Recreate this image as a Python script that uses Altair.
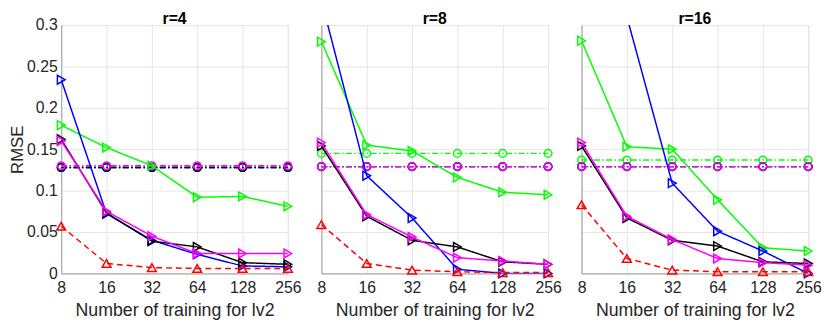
import altair as alt
import pandas as pd

# ---------------- data ----------------
x_train = [8, 16, 32, 64, 128, 256]
panel_titles = ["r=4", "r=8", "r=16"]

# solid lines with right-pointing triangles
blue_tri = {"r=4": [0.234, 0.072, 0.040, 0.023, 0.009, 0.008],
            "r=8": [0.330, 0.118, 0.067, 0.005, 0.000, 0.000],
            "r=16": [0.450, 0.310, 0.109, 0.051, 0.027, 0.000]}
green_tri = {"r=4": [0.179, 0.152, 0.130, 0.092, 0.093, 0.081],
             "r=8": [0.280, 0.155, 0.148, 0.116, 0.098, 0.095],
             "r=16": [0.281, 0.153, 0.150, 0.089, 0.031, 0.027]}
black_tri = {"r=4": [0.162, 0.073, 0.039, 0.032, 0.013, 0.011],
             "r=8": [0.154, 0.069, 0.040, 0.032, 0.014, 0.011],
             "r=16": [0.154, 0.067, 0.040, 0.033, 0.014, 0.012]}
magenta_tri = {"r=4": [0.160, 0.075, 0.045, 0.024, 0.024, 0.024],
               "r=8": [0.158, 0.071, 0.044, 0.019, 0.015, 0.011],
               "r=16": [0.158, 0.069, 0.041, 0.018, 0.013, 0.010]}
# dashed red with up triangles
red_up = {"r=4": [0.057, 0.012, 0.007, 0.006, 0.006, 0.006],
          "r=8": [0.059, 0.012, 0.004, 0.002, 0.001, 0.001],
          "r=16": [0.083, 0.018, 0.004, 0.002, 0.002, 0.002]}
# dash-dot with circles (constant baselines)
green_circ = {"r=4": [0.128] * 6, "r=8": [0.145] * 6, "r=16": [0.137] * 6}
blue_circ = {"r=4": [0.128] * 6, "r=8": [0.129] * 6, "r=16": [0.129] * 6}
black_circ = {"r=4": [0.128] * 6, "r=8": [0.129] * 6, "r=16": [0.129] * 6}
magenta_circ = {"r=4": [0.130] * 6, "r=8": [0.129] * 6, "r=16": [0.129] * 6}

y_ticks = [0, 0.05, 0.1, 0.15, 0.2, 0.25, 0.3]

# ---------------- styles ----------------
DASHDOT = [6, 2.5, 1.5, 2.5]
SOLID = [1, 0]
DASHED = [6, 4]
series = [
    ("green_circ", green_circ, "#00ff00", "circle", DASHDOT),
    ("blue_circ", blue_circ, "#0000ff", "circle", DASHDOT),
    ("black_circ", black_circ, "#000000", "circle", DASHDOT),
    ("magenta_circ", magenta_circ, "#ff00ff", "circle", DASHDOT),
    ("green_tri", green_tri, "#00ff00", "triangle-right", SOLID),
    ("blue_tri", blue_tri, "#0000ff", "triangle-right", SOLID),
    ("black_tri", black_tri, "#000000", "triangle-right", SOLID),
    ("magenta_tri", magenta_tri, "#ff00ff", "triangle-right", SOLID),
    ("red_up", red_up, "#ff0000", "triangle-up", DASHED),
]

FONT = "Liberation Sans"
GRID = "#e6e6e6"
DOMAIN = "#a0a0a0"
TXT = "#262626"
W, H = 230, 252


def make_panel(title, idx):
    rows = []
    for name, vals, *_ in series:
        for xv, yv in zip(x_train, vals[title]):
            rows.append({"x": xv, "y": yv, "s": name})
    df = pd.DataFrame(rows)

    xenc = alt.X("x:Q",
                 scale=alt.Scale(type="log", base=2, domain=[8, 256], nice=False),
                 axis=alt.Axis(values=x_train, format="d", title="Number of training for lv2",
                               grid=True, ticks=False, labelPadding=6, titlePadding=7,
                               labelFontSize=16, titleFontSize=18, labelFlush=False,
                               titleFontWeight="normal", labelFont=FONT, titleFont=FONT,
                               labelColor=TXT, titleColor=TXT, gridColor=GRID, domainColor=DOMAIN))
    if idx == 0:
        yaxis = alt.Axis(values=y_ticks, format=".2~f", title="RMSE", grid=True, ticks=False,
                         labelPadding=4, titlePadding=0, labelFontSize=16, titleFontSize=17,
                         titleFontWeight="normal", labelFont=FONT, titleFont=FONT,
                         labelColor=TXT, titleColor=TXT, gridColor=GRID, domainColor=DOMAIN)
    else:
        yaxis = alt.Axis(values=y_ticks, labels=False, title=None, grid=True, ticks=False,
                         gridColor=GRID, domainColor=DOMAIN)
    yenc = alt.Y("y:Q", scale=alt.Scale(domain=[0, 0.3], nice=False, zero=False), axis=yaxis)

    layers = []
    base = alt.Chart(df)
    for name, vals, color, shape, dash in series:
        sub = base.transform_filter(alt.datum.s == name)
        line = sub.mark_line(color=color, strokeWidth=1.5, strokeDash=dash, clip=True).encode(x=xenc, y=yenc)
        size = 60 if shape == "circle" else 80
        pts = sub.transform_filter(alt.datum.y <= 0.3).mark_point(
            shape=shape, filled=False, color=color, size=size, strokeWidth=1.5, opacity=1
        ).encode(x=xenc, y=yenc)
        layers += [line, pts]

    title_mark = alt.Chart(pd.DataFrame({"t": [title]})).mark_text(
        fontSize=16, fontWeight="bold", font=FONT, color="#000000",
        baseline="alphabetic", align="center"
    ).encode(text="t:N", x=alt.value(W / 2), y=alt.value(-1))
    layers.append(title_mark)
    return alt.layer(*layers).properties(width=W, height=H)


panels = [make_panel(t, i) for i, t in enumerate(panel_titles)]

chart = alt.hconcat(*panels, spacing=34, bounds="flush",
                    padding={"left": 0, "top": 0, "right": 0, "bottom": 0}).configure_view(
    stroke=None).configure(background="white")

chart.save("out.html", embed_options={"renderer": "svg", "actions": False})
